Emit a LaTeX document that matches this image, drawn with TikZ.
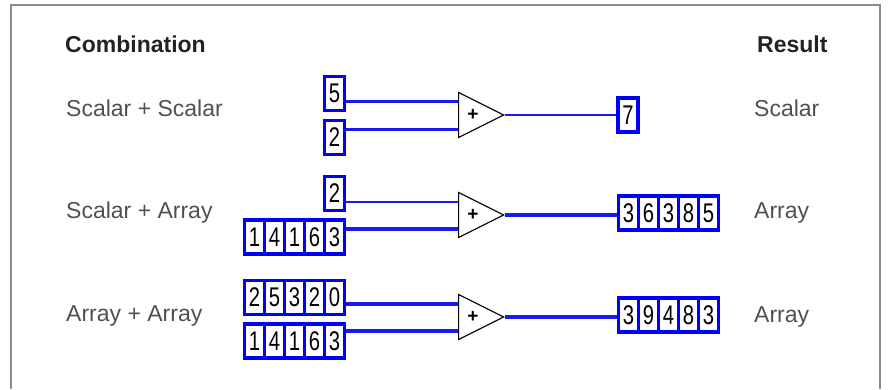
\documentclass[tikz,border=0pt]{standalone}
\usepackage{fontspec}
\setmainfont{Liberation Sans}
\newfontfamily\digitfont[FakeStretch=0.75]{Liberation Sans}
\usetikzlibrary{positioning,calc,shapes.geometric}
\definecolor{boxblue}{RGB}{0,0,255}
\definecolor{wireblue}{RGB}{25,25,240}
\definecolor{labelgray}{RGB}{80,80,80}
\definecolor{headgray}{RGB}{35,35,35}
\definecolor{framegray}{RGB}{140,140,140}

\begin{document}
\begin{tikzpicture}[x=1pt,y=-1pt,
  head/.style={font=\bfseries\fontsize{23}{27}\selectfont,text=headgray,inner sep=0,anchor=base west},
  rowtext/.style={font=\fontsize{23}{27}\selectfont,text=labelgray,inner sep=0,anchor=base west},
  cell/.style={draw=boxblue,line width=3.5pt,fill=white,minimum width=20pt,minimum height=34pt,inner sep=0,font=\digitfont\fontsize{27}{27}\selectfont},
  adder/.style={draw,line width=1.2pt,isosceles triangle,isosceles triangle stretches,minimum width=45pt,minimum height=45pt,inner sep=0,anchor=lower side},
  plus/.style={font=\bfseries\fontsize{19}{19}\selectfont,inner sep=0},
  wire/.style={draw=wireblue,line width=3pt},
  arraywire/.style={draw=wireblue,line width=3.5pt},
  thinwire/.style={draw=wireblue,line width=1.6pt},
  frame/.style={draw=framegray,line width=2pt}]
\useasboundingbox (0,0) rectangle (889,389);
\draw[frame] (11,389) -- (11,5) -- (880,5) -- (880,389);

% headings
\node[head] (hcomb) at (65,52) {Combination};
\node[head] (hres) at (757,52) {Result};

% row 1: scalar + scalar
\node[rowtext] (c1) at (66,116) {Scalar + Scalar};
\node[rowtext] (r1) at (754,116) {Scalar};
\node[cell] (in1a) at (334.5,93.5) {5};
\node[cell] (in1b) at (334.5,137.5) {2};
\node[adder] (add1) at (458,115) {};
\node[plus] (p1) at ($(add1.lower side)+(15,0)$) {+};
\node[cell] (out1) at (628,115) {7};
\coordinate (t1a) at ($(add1.left corner)!0.22!(add1.right corner)$);
\coordinate (t1b) at ($(add1.left corner)!0.8!(add1.right corner)$);
\draw[wire] (in1a.east |- t1a) -- (t1a);
\draw[wire] (in1b.east |- t1b) -- (t1b);
\draw[thinwire] (add1.apex) -- (add1.apex -| out1.west);

% row 2: scalar + array
\node[rowtext] (c2) at (66,218) {Scalar + Array};
\node[rowtext] (r2) at (754,218) {Array};
\node[cell] (in2a) at (334.5,193.5) {2};
\foreach \d [count=\i] in {1,4,1,6,3}
  \node[cell] (in2b-\i) at ({234.5+20*\i},237) {\d};
\node[adder] (add2) at (458,215) {};
\node[plus] (p2) at ($(add2.lower side)+(15,0)$) {+};
\foreach \d [count=\i] in {3,6,3,8,5}
  \node[cell] (out2-\i) at ({608.5+20*\i},213) {\d};
\coordinate (t2a) at ($(add2.left corner)!0.22!(add2.right corner)$);
\coordinate (t2b) at ($(add2.left corner)!0.8!(add2.right corner)$);
\draw[thinwire] (in2a.east |- t2a) -- (t2a);
\draw[arraywire] (in2b-5.east |- t2b) -- (t2b);
\draw[arraywire] (add2.apex) -- (add2.apex -| out2-1.west);

% row 3: array + array
\node[rowtext] (c3) at (66,321) {Array + Array};
\node[rowtext] (r3) at (754,322) {Array};
\foreach \d [count=\i] in {2,5,3,2,0}
  \node[cell] (in3a-\i) at ({234.5+20*\i},297.5) {\d};
\foreach \d [count=\i] in {1,4,1,6,3}
  \node[cell] (in3b-\i) at ({234.5+20*\i},341) {\d};
\node[adder] (add3) at (458,317) {};
\node[plus] (p3) at ($(add3.lower side)+(15,0)$) {+};
\foreach \d [count=\i] in {3,9,4,8,3}
  \node[cell] (out3-\i) at ({608.5+20*\i},315) {\d};
\coordinate (t3a) at ($(add3.left corner)!0.22!(add3.right corner)$);
\coordinate (t3b) at ($(add3.left corner)!0.8!(add3.right corner)$);
\draw[arraywire] (in3a-5.east |- t3a) -- (t3a);
\draw[arraywire] (in3b-5.east |- t3b) -- (t3b);
\draw[arraywire] (add3.apex) -- (add3.apex -| out3-1.west);
\end{tikzpicture}
\end{document}
